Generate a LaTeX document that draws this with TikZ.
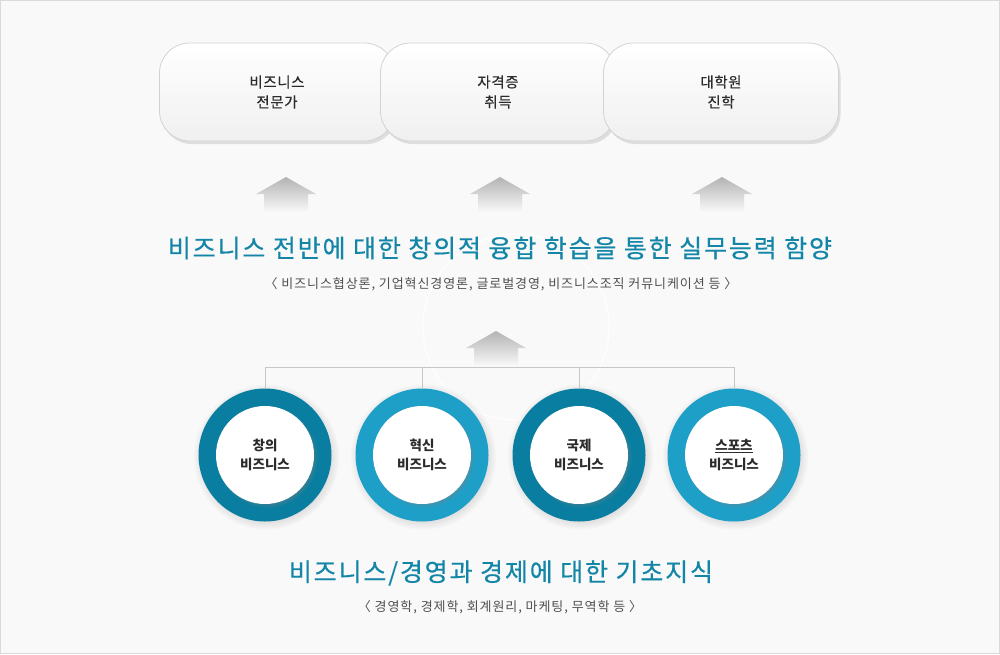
\documentclass[tikz,border=0pt]{standalone}
\usepackage{fontspec}
\setmainfont{Noto Sans CJK KR}
\newfontfamily\widefont[LetterSpace=7]{Noto Sans CJK KR}
\newfontfamily\headfont[LetterSpace=7.4, FakeBold=0.5]{Noto Sans CJK KR}
\newfontfamily\midfont[LetterSpace=4, FakeBold=0.3]{Noto Sans CJK KR}
\usepackage{tikz}
\usetikzlibrary{shadows}
\usetikzlibrary{calc}

\definecolor{pagebg}{HTML}{F9F9F9}
\definecolor{frame}{HTML}{DADADA}
\definecolor{boxline}{HTML}{D3D3D3}
\definecolor{headteal}{HTML}{1385A7}
\definecolor{ringdark}{HTML}{097EA0}
\definecolor{ringlight}{HTML}{1E9FC8}
\definecolor{txtdark}{HTML}{2B2B2B}
\definecolor{txtgray}{HTML}{505050}

\begin{document}
\begin{tikzpicture}[x=1pt, y=1pt,
    goal/.style={draw=boxline, line width=0.8pt, rounded corners=30pt,
        minimum width=235pt, minimum height=98pt, inner sep=0pt,
        top color=white, bottom color=black!6,
        drop shadow={shadow xshift=2pt, shadow yshift=-3pt, opacity=0.22},
        align=center, text=txtdark, font=\midfont\fontsize{14.5}{20}\selectfont},
    ring/.style={circle, minimum size=133pt, inner sep=0pt, fill=#1,
        circular drop shadow={shadow xshift=1pt, shadow yshift=-1.5pt, opacity=0.25}},
    core/.style={circle, minimum size=98pt, inner sep=0pt, fill=white,
        circular drop shadow={shadow xshift=2pt, shadow yshift=-2pt, shadow scale=1.04, opacity=0.55},
        align=center, text=txtdark, font=\bfseries\fontsize{13.5}{19}\selectfont},
    headline/.style={text=headteal, font=\headfont\fontsize{25}{28}\selectfont},
    subline/.style={text=txtgray, font=\widefont\fontsize{13}{16}\selectfont},
    link/.style={draw=black!22, line width=0.8pt}]
    \useasboundingbox (0,0) rectangle (1000,-654);
    \draw[fill=pagebg, draw=frame, line width=1pt] (0.5,-0.5) rectangle (999.5,-653.5);
    % faint ring in the background
    \draw[white, line width=1pt] (516,-327) circle (93);

    % goals
    \node[goal] (goal1) at (277,-92) {비즈니스\\전문가};
    \node[goal] (goal2) at (498,-92) {자격증\\취득};
    \node[goal] (goal3) at (721,-92) {대학원\\진학};

    % up arrows
    \foreach \ax/\ay in {286/177, 500/177, 722/177, 496/331}
        \shade[top color=black!30, bottom color=pagebg]
            (\ax,-\ay) -- ++(30,-17) -- ++(-8,0) -- ++(0,-18) -- ++(-44,0)
            -- ++(0,18) -- ++(-8,0) -- cycle;

    \node[headline] (aim) at (500,-248) {비즈니스 전반에 대한 창의적 융합 학습을 통한 실무능력 함양};
    \node[subline] (aimsub) at (501,-284) {〈 비즈니스협상론, 기업혁신경영론, 글로벌경영, 비즈니스조직 커뮤니케이션 등 〉};

    % basis rings
    \node[ring=ringdark]  (ring1) at (265,-455) {};
    \node[ring=ringlight] (ring2) at (422,-455) {};
    \node[ring=ringdark]  (ring3) at (579,-455) {};
    \node[ring=ringlight] (ring4) at (734,-455) {};
    \node[core] (biz1) at (ring1) {창의\\비즈니스};
    \node[core] (biz2) at (ring2) {혁신\\비즈니스};
    \node[core] (biz3) at (ring3) {국제\\비즈니스};
    \node[core] (biz4) at (ring4) {\underline{스포츠}\\비즈니스};

    \coordinate (bus) at (0,-367);
    \draw[link] (ring1.north) -- (ring1.north |- bus) -- (ring4.north |- bus) -- (ring4.north);
    \draw[link] (ring2.north) -- (ring2.north |- bus);
    \draw[link] (ring3.north) -- (ring3.north |- bus);

    \node[headline] (base) at (501,-573) {비즈니스/경영과 경제에 대한 기초지식};
    \node[subline] (basesub) at (500,-607) {〈 경영학, 경제학, 회계원리, 마케팅, 무역학 등 〉};
\end{tikzpicture}
\end{document}
